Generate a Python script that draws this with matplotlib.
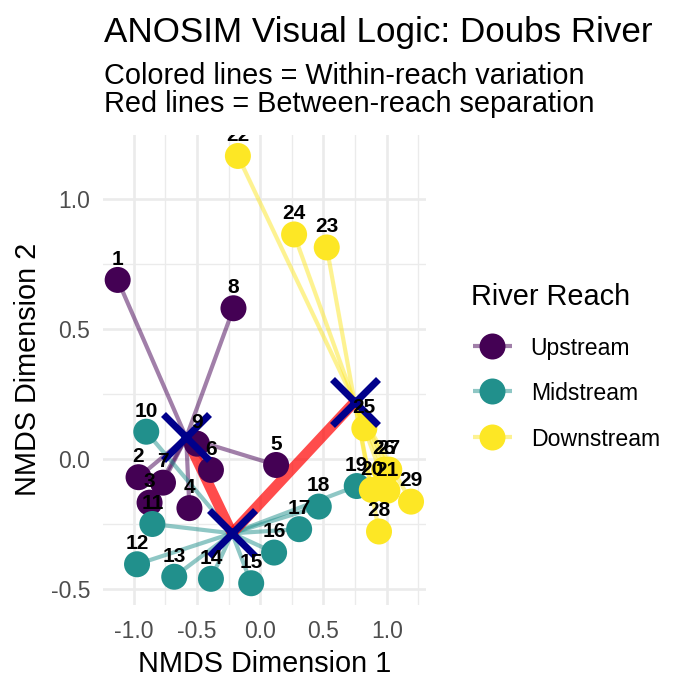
import matplotlib
matplotlib.use('Agg')
import matplotlib.pyplot as plt
import numpy as np
from matplotlib.lines import Line2D

plt.rcParams['font.family'] = ['Liberation Sans', 'DejaVu Sans']

# ---------------- data ----------------
site_ids = list(range(1, 30))
nmds1 = [-1.126, -0.961, -0.874, -0.559, 0.126, -0.389, -0.768, -0.211, -0.500,
         -0.900, -0.852, -0.973, -0.679, -0.389, -0.071, 0.110, 0.308, 0.463, 0.763,
         0.882, 1.005, -0.176, 0.526, 0.268, 0.823, 0.980, 1.020, 0.939, 1.192]
nmds2 = [0.690, -0.069, -0.167, -0.188, -0.022, -0.041, -0.090, 0.581, 0.060,
         0.106, -0.249, -0.404, -0.452, -0.460, -0.477, -0.359, -0.269, -0.182, -0.103,
         -0.118, -0.121, 1.167, 0.815, 0.865, 0.119, -0.040, -0.040, -0.278, -0.163]
reach = ['Upstream'] * 9 + ['Midstream'] * 10 + ['Downstream'] * 10
reach_levels = ['Upstream', 'Midstream', 'Downstream']
reach_colors = ['#440154', '#21908C', '#FDE725']

title = 'ANOSIM Visual Logic: Doubs River'
subtitle = ['Colored lines = Within-reach variation', 'Red lines = Between-reach separation']
xlabel = 'NMDS Dimension 1'
ylabel = 'NMDS Dimension 2'
legend_title = 'River Reach'
x_ticks = [-1.0, -0.5, 0.0, 0.5, 1.0]
y_ticks = [-0.5, 0.0, 0.5, 1.0]

# ---------------- figure ----------------
W = H = 691
DPI = 100
fig = plt.figure(figsize=(W / DPI, H / DPI), dpi=DPI)
PX = 72.0 / DPI  # points per pixel

def fx(px):
    return px / W

def fy(py):
    return 1 - py / H

left, right, top, bottom = 103, 425.7, 134.6, 604.6
ax = fig.add_axes([fx(left), fy(bottom), fx(right - left), (bottom - top) / H])

x = np.array(nmds1)
y = np.array(nmds2)
r = np.array(reach)
col_of = dict(zip(reach_levels, reach_colors))

cent = {lv: (x[r == lv].mean(), y[r == lv].mean()) for lv in reach_levels}

# within-group spokes
for xi, yi, ri in zip(x, y, r):
    cx, cy = cent[ri]
    ax.plot([xi, cx], [yi, cy], color=col_of[ri], alpha=0.5, lw=3.0,
            solid_capstyle='butt', zorder=2)

# between-group lines
for a, b in zip(reach_levels[:-1], reach_levels[1:]):
    ax.plot([cent[a][0], cent[b][0]], [cent[a][1], cent[b][1]], color='red',
            alpha=0.7, lw=7.6, solid_capstyle='butt', zorder=3)

# points
for lv in reach_levels:
    m = r == lv
    ax.scatter(x[m], y[m], s=(26 * PX) ** 2, color=col_of[lv], edgecolors='none',
               zorder=4)

# centroids
for lv in reach_levels:
    ax.plot(cent[lv][0], cent[lv][1], marker='x', ms=46 * PX, mew=7 * PX,
            color='#00008B', ls='none', zorder=5)

# labels
for sid, xi, yi in zip(site_ids, x, y):
    ax.annotate(str(sid), (xi, yi), xytext=(0, 20.7 * PX), textcoords='offset points',
                ha='center', va='center', fontsize=15, fontweight='bold',
                color='black', clip_on=True, zorder=6)

# scales
xr = x.max() - x.min()
yr = y.max() - y.min()
ax.set_xlim(x.min() - 0.05 * xr, x.max() + 0.05 * xr)
ax.set_ylim(y.min() - 0.05 * yr, y.max() + 0.05 * yr)
ax.set_xticks(x_ticks)
ax.set_yticks(y_ticks)
ax.set_xticklabels([f'{v:.1f}' for v in x_ticks])
ax.set_yticklabels([f'{v:.1f}' for v in y_ticks])
ax.set_xticks([-0.75, -0.25, 0.25, 0.75, 1.25], minor=True)
ax.set_yticks([-0.25, 0.25, 0.75], minor=True)
ax.grid(True, which='major', color='#EBEBEB', lw=1.94, zorder=0)
ax.grid(True, which='minor', color='#EBEBEB', lw=0.97, zorder=0)
ax.set_axisbelow(True)
for s in ax.spines.values():
    s.set_visible(False)
ax.tick_params(which='both', length=0)
ax.tick_params(axis='x', pad=11, labelsize=16.5, labelcolor='#4D4D4D')
ax.tick_params(axis='y', pad=9, labelsize=16.5, labelcolor='#4D4D4D')

fig.text(fx((left + right) / 2), fy(672), xlabel, ha='center', va='baseline',
         fontsize=20.8, color='black')
fig.text(fx(28), fy((top + bottom) / 2), ylabel, ha='center', va='center',
         rotation=90, fontsize=20.8, color='black')

# titles
fig.text(fx(104), fy(42), title, ha='left', va='baseline', fontsize=25.2, color='black')
fig.text(fx(104), fy(84), subtitle[0], ha='left', va='baseline', fontsize=20.8, color='black')
fig.text(fx(104), fy(112.5), subtitle[1], ha='left', va='baseline', fontsize=20.8, color='black')

# legend (manual, in figure pixels)
fig.text(fx(470.7), fy(305), legend_title, ha='left', va='baseline', fontsize=20.8,
         color='black')
for i, lv in enumerate(reach_levels):
    yy = 346 + i * 45.3
    fig.add_artist(Line2D([fx(473), fx(512)], [fy(yy), fy(yy)], color=col_of[lv],
                          alpha=0.5, lw=3.0, solid_capstyle='butt'))
    fig.add_artist(Line2D([fx(491.7)], [fy(yy)], marker='o', ms=26 * PX,
                          mec='none', color=col_of[lv], ls='none'))
    fig.text(fx(530.7), fy(yy), lv, ha='left', va='center_baseline', fontsize=16.6,
             color='black')

fig.savefig('out.png', dpi=DPI, facecolor='white')
